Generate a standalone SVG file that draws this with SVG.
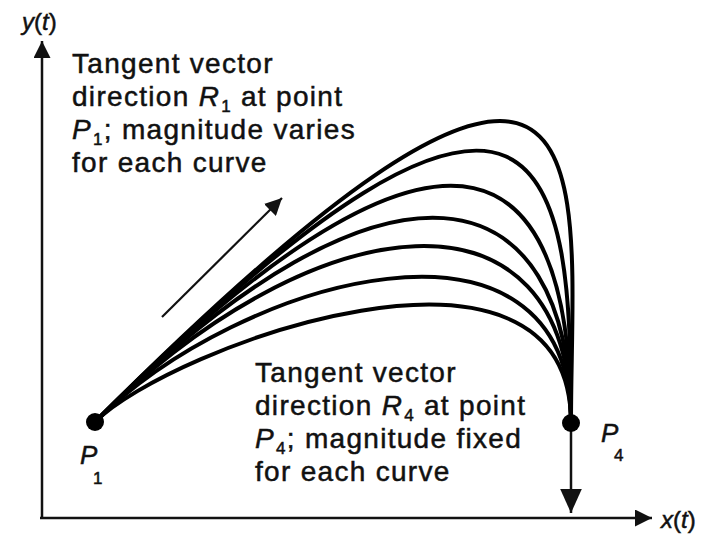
<svg xmlns="http://www.w3.org/2000/svg" width="711" height="535" viewBox="0 0 711 535">
<style>
text{font-family:"Liberation Sans",Arial,sans-serif;fill:#111;stroke:#111;stroke-width:0.5}
.lbl{font-size:28px;letter-spacing:1.3px}
.it{font-style:italic}
.sub{font-size:17px}
.curve{fill:none;stroke:#000;stroke-width:4;stroke-linecap:round}
.ax{fill:none;stroke:#111;stroke-width:2.5}
</style>
<defs>
<marker id="ah" viewBox="0 0 10 10" refX="10" refY="5" markerWidth="17" markerHeight="17" markerUnits="userSpaceOnUse" orient="auto"><path d="M0,0 L10,5 L0,10 z" fill="#111"/></marker>
<marker id="ahb" viewBox="0 0 10 10" refX="10" refY="5" markerWidth="24" markerHeight="24" markerUnits="userSpaceOnUse" orient="auto"><path d="M0,0.5 L10,5 L0,9.5 z" fill="#111"/></marker>
</defs>
<rect width="711" height="535" fill="#fff"/>
<g id="axes">
<line class="ax" x1="42" y1="518" x2="42" y2="41" marker-end="url(#ah)"/>
<line class="ax" x1="40" y1="518" x2="652" y2="518" marker-end="url(#ah)"/>
<text x="22" y="30" style="font-size:24px"><tspan class="it">y</tspan>(<tspan class="it">t</tspan>)</text>
<text x="661" y="528" style="font-size:24px"><tspan class="it">x</tspan>(<tspan class="it">t</tspan>)</text>
</g>
<g id="curves">
<path class="curve" d="M95,422 C625,-108 571,173 571,423"/>
<path class="curve" d="M95,422 C555,-38 571,173 571,423"/>
<path class="curve" d="M95,422 C470,47 571,173 571,423"/>
<path class="curve" d="M95,422 C390,127 571,173 571,423"/>
<path class="curve" d="M95,422 C315,202 571,173 571,423"/>
<path class="curve" d="M95,422 C240,277 571,185 571,423"/>
<path class="curve" d="M95,422 C170,347 571,200 571,423"/>
</g>
<g id="connectors">
<line x1="162" y1="317" x2="282" y2="198" stroke="#111" stroke-width="2.2" marker-end="url(#ah)"/>
<line x1="571" y1="430" x2="571" y2="513" stroke="#111" stroke-width="2.5" marker-end="url(#ahb)"/>
</g>
<g id="P1">
<circle cx="95" cy="422" r="9" fill="#000"/>
<text x="80" y="464" style="font-size:26px"><tspan class="it">P</tspan></text>
<text x="93" y="484" class="sub">1</text>
</g>
<g id="P4">
<circle cx="571" cy="423" r="9" fill="#000"/>
<text x="601" y="442" style="font-size:26px"><tspan class="it">P</tspan></text>
<text x="614" y="461" class="sub">4</text>
</g>
<g id="label-R1">
<text class="lbl" x="72" y="73">Tangent vector</text>
<text class="lbl" x="72" y="106">direction <tspan class="it">R</tspan><tspan class="sub" dx="1" dy="6">1</tspan><tspan dy="-6"> at point</tspan></text>
<text class="lbl" x="72" y="139"><tspan class="it">P</tspan><tspan class="sub" dx="1" dy="6">1</tspan><tspan dy="-6">; magnitude varies</tspan></text>
<text class="lbl" x="72" y="172">for each curve</text>
</g>
<g id="label-R4">
<text class="lbl" x="255" y="382">Tangent vector</text>
<text class="lbl" x="255" y="415">direction <tspan class="it">R</tspan><tspan class="sub" dx="1" dy="6">4</tspan><tspan dy="-6"> at point</tspan></text>
<text class="lbl" x="255" y="448"><tspan class="it">P</tspan><tspan class="sub" dx="1" dy="6">4</tspan><tspan dy="-6">; magnitude fixed</tspan></text>
<text class="lbl" x="255" y="481">for each curve</text>
</g>
</svg>
